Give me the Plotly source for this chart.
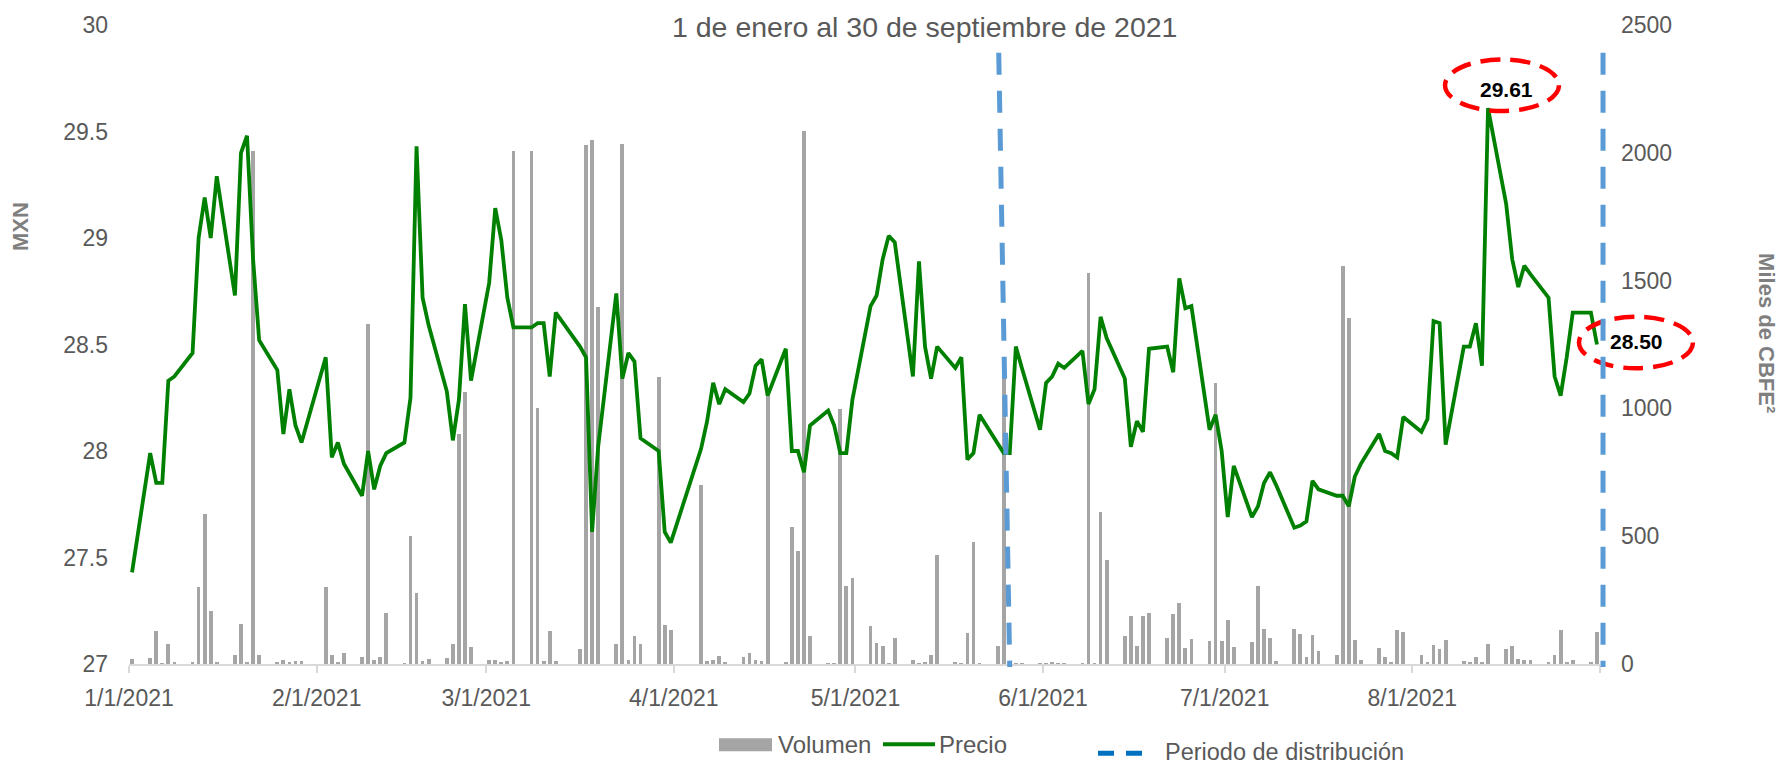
import pandas as pd
import plotly.graph_objects as go

# ---------------- data ----------------
fechas = [
    "2021-01-01", "2021-01-04", "2021-01-05", "2021-01-06", "2021-01-07", "2021-01-08",
    "2021-01-11", "2021-01-12", "2021-01-13", "2021-01-14", "2021-01-15",
    "2021-01-18", "2021-01-19", "2021-01-20", "2021-01-21", "2021-01-22",
    "2021-01-25", "2021-01-26", "2021-01-27", "2021-01-28", "2021-01-29",
    "2021-02-02", "2021-02-03", "2021-02-04", "2021-02-05",
    "2021-02-08", "2021-02-09", "2021-02-10", "2021-02-11", "2021-02-12",
    "2021-02-15", "2021-02-16", "2021-02-17", "2021-02-18", "2021-02-19",
    "2021-02-22", "2021-02-23", "2021-02-24", "2021-02-25", "2021-02-26",
    "2021-03-01", "2021-03-02", "2021-03-03", "2021-03-04", "2021-03-05",
    "2021-03-08", "2021-03-09", "2021-03-10", "2021-03-11", "2021-03-12",
    "2021-03-16", "2021-03-17", "2021-03-18", "2021-03-19",
    "2021-03-22", "2021-03-23", "2021-03-24", "2021-03-25", "2021-03-26",
    "2021-03-29", "2021-03-30", "2021-03-31",
    "2021-04-05", "2021-04-06", "2021-04-07", "2021-04-08", "2021-04-09",
    "2021-04-12", "2021-04-13", "2021-04-14", "2021-04-15", "2021-04-16",
    "2021-04-19", "2021-04-20", "2021-04-21", "2021-04-22", "2021-04-23",
    "2021-04-26", "2021-04-27", "2021-04-28", "2021-04-29", "2021-04-30",
    "2021-05-03", "2021-05-04", "2021-05-05", "2021-05-06", "2021-05-07",
    "2021-05-10", "2021-05-11", "2021-05-12", "2021-05-13", "2021-05-14",
    "2021-05-17", "2021-05-18", "2021-05-19", "2021-05-20", "2021-05-21",
    "2021-05-24", "2021-05-25", "2021-05-26", "2021-05-27", "2021-05-28",
    "2021-05-31", "2021-06-01", "2021-06-02", "2021-06-03", "2021-06-04",
    "2021-06-07", "2021-06-08", "2021-06-09", "2021-06-10", "2021-06-11",
    "2021-06-14", "2021-06-15", "2021-06-16", "2021-06-17", "2021-06-18",
    "2021-06-21", "2021-06-22", "2021-06-23", "2021-06-24", "2021-06-25",
    "2021-06-28", "2021-06-29", "2021-06-30", "2021-07-01", "2021-07-02",
    "2021-07-05", "2021-07-06", "2021-07-07", "2021-07-08", "2021-07-09",
    "2021-07-12", "2021-07-13", "2021-07-14", "2021-07-15", "2021-07-16",
    "2021-07-19", "2021-07-20", "2021-07-21", "2021-07-22", "2021-07-23",
    "2021-07-26", "2021-07-27", "2021-07-28", "2021-07-29", "2021-07-30",
    "2021-08-02", "2021-08-03", "2021-08-04", "2021-08-05", "2021-08-06",
    "2021-08-09", "2021-08-10", "2021-08-11", "2021-08-12", "2021-08-13",
    "2021-08-16", "2021-08-17", "2021-08-18", "2021-08-19", "2021-08-20",
    "2021-08-23", "2021-08-24", "2021-08-25", "2021-08-26", "2021-08-27",
    "2021-08-30", "2021-08-31",
]

precio = [
    27.43, 27.99, 27.85, 27.85, 28.33, 28.35,
    28.46, 29.00, 29.19, 29.00, 29.29,
    28.73, 29.40, 29.48, 28.90, 28.52,
    28.38, 28.08, 28.29, 28.12, 28.04,
    28.44, 27.97, 28.04, 27.94,
    27.79, 28.00, 27.82, 27.93, 27.99,
    28.04, 28.25, 29.43, 28.72, 28.59,
    28.28, 28.05, 28.24, 28.69, 28.33,
    28.79, 29.14, 28.99, 28.72, 28.58,
    28.58, 28.60, 28.60, 28.35, 28.65,
    28.49, 28.44, 27.62, 28.02,
    28.74, 28.34, 28.46, 28.42, 28.06,
    28.00, 27.62, 27.57,
    28.01, 28.14, 28.32, 28.22, 28.29,
    28.23, 28.27, 28.40, 28.43, 28.26,
    28.48, 28.00, 28.00, 27.90, 28.12,
    28.19, 28.12, 27.99, 27.99, 28.24,
    28.68, 28.73, 28.90, 29.01, 28.98,
    28.35, 28.89, 28.49, 28.34, 28.49,
    28.39, 28.44, 27.96, 27.99, 28.17,
    28.03, 27.99, 27.99, 28.49, 28.39,
    28.10, 28.32, 28.35, 28.41, 28.39,
    28.47, 28.22, 28.29, 28.63, 28.53,
    28.34, 28.02, 28.14, 28.09, 28.48,
    28.49, 28.37, 28.81, 28.67, 28.68,
    28.10, 28.17, 28.00, 27.69, 27.93,
    27.69, 27.74, 27.85, 27.90, 27.84,
    27.64, 27.65, 27.67, 27.86, 27.82,
    27.79, 27.79, 27.74, 27.88, 27.94,
    28.08, 28.00, 27.99, 27.97, 28.16,
    28.09, 28.15, 28.61, 28.60, 28.03,
    28.49, 28.49, 28.60, 28.40, 29.61,
    29.16, 28.90, 28.77, 28.87, 28.83,
    28.72, 28.35, 28.26, 28.44, 28.65,
    28.65, 28.50,
]

volumen = [
    20, 22, 128, 3, 77, 8,
    4, 300, 588, 207, 4,
    35, 158, 6, 2008, 35,
    5, 14, 6, 12, 10,
    300, 36, 6, 43,
    29, 1330, 17, 29, 201,
    3, 500, 276, 10, 19,
    24, 79, 900, 1066, 65,
    14, 14, 5, 10, 2009,
    2009, 1000, 10, 129, 10,
    57, 2030, 2052, 1398,
    79, 2033, 14, 108, 79,
    1124, 151, 132,
    700, 10, 17, 33, 7,
    29, 43, 14, 10, 1049,
    5, 535, 441, 2087, 108,
    3, 3, 999, 305, 338,
    147, 82, 69, 3, 101,
    14, 3, 5, 36, 428,
    5, 3, 122, 477, 3,
    72, 1186, 3, 3, 3,
    1, 2, 5, 3, 3,
    3, 1530, 3, 596, 405,
    108, 187, 69, 187, 201,
    101, 197, 237, 62, 98,
    89, 1100, 89, 172, 65,
    86, 306, 137, 103, 10,
    137, 118, 28, 115, 50,
    35, 1558, 1352, 93, 14,
    64, 26, 4, 133, 126,
    36, 4, 75, 60, 93,
    10, 4, 26, 4, 79,
    57, 69, 21, 17, 17,
    4, 36, 133, 7, 14,
    7, 126,
]

periodo_distribucion = ["2021-05-25", "2021-09-01"]

titulo = "1 de enero al 30 de septiembre de 2021"
y_izq_ticks = [27, 27.5, 28, 28.5, 29, 29.5, 30]
y_der_ticks = [0, 500, 1000, 1500, 2000, 2500]

# ---------------- layout geometry ----------------
FW, FH = 1791, 766
ML, MR, MT, MB = 129, 191, 19, 102
W = FW - ML - MR
H = FH - MT - MB
FONT = "Liberation Sans, Arial, sans-serif"
GRAY_TXT = "#595959"

x0 = pd.Timestamp("2021-01-01") - pd.Timedelta(hours=12)
x1 = pd.Timestamp("2021-09-01") - pd.Timedelta(hours=12)
meses = pd.date_range("2021-01-01", "2021-09-01", freq="MS")
tickvals = [m - pd.Timedelta(hours=12) for m in meses]
ticktext = [f"{m.month}/1/2021" for m in meses[:-1]] + [""]


def px(xpix):
    return (xpix - ML) / W


def py(ypix):
    return (FH - MB - ypix) / H


def date_px(d):
    return ML + (pd.Timestamp(d) - x0) / (x1 - x0) * W


def price_py(p):
    return FH - MB - (p - 27) / 3 * H


fig = go.Figure()
fig.add_trace(go.Bar(
    x=fechas, y=volumen, name="Volumen",
    marker=dict(color="#A5A5A5", line=dict(width=0)),
    width=0.62 * 86400000, yaxis="y", showlegend=False,
))
fig.add_trace(go.Scatter(
    x=fechas, y=precio, name="Precio", mode="lines",
    line=dict(color="#008000", width=3.8), yaxis="y2", showlegend=False,
))

shapes = []
annotations = []

# highlighted values (max and last price)
imax = max(range(len(precio)), key=lambda i: precio[i])
ilast = len(precio) - 1
resaltes = [(imax, 14, -23, 18, -19), (ilast, 39, -2, 40, -3)]
for idx, ox, oy, tx, ty in resaltes:
    cx = date_px(fechas[idx]) + ox
    cy = price_py(precio[idx]) + oy
    shapes.append(dict(
        type="circle", xref="paper", yref="paper",
        x0=px(cx - 57), x1=px(cx + 57), y0=py(cy + 26), y1=py(cy - 26),
        line=dict(color="#FF0000", width=4.5, dash="20px,10px"),
        fillcolor="rgba(0,0,0,0)", layer="above",
    ))
    annotations.append(dict(
        xref="paper", yref="paper",
        x=px(date_px(fechas[idx]) + tx), y=py(price_py(precio[idx]) + ty),
        text=f"<b>{precio[idx]:.2f}</b>", showarrow=False,
        font=dict(family=FONT, size=21, color="#000000"),
        xanchor="center", yanchor="middle",
    ))

# distribution period dashed lines
slants = [(-5, 6), (0, 0)]
for d, (st, sb) in zip(periodo_distribucion, slants):
    xc = date_px(d)
    shapes.append(dict(
        type="line", xref="paper", yref="paper",
        x0=px(xc + st), x1=px(xc + sb), y0=py(47), y1=py(667),
        line=dict(color="#5B9BD5", width=5, dash="22px,16px"), layer="above",
    ))

# title
annotations.append(dict(
    xref="paper", yref="paper", x=px(924), y=py(21), text=titulo,
    showarrow=False, font=dict(family=FONT, size=28.5, color=GRAY_TXT),
    xanchor="center", yanchor="middle",
))
# axis titles
annotations.append(dict(
    xref="paper", yref="paper", x=px(20), y=py(223), text="<b>MXN</b>",
    showarrow=False, textangle=-90, font=dict(family=FONT, size=22, color="#7F7F7F"),
    xanchor="center", yanchor="middle",
))
annotations.append(dict(
    xref="paper", yref="paper", x=px(1767), y=py(330), text="<b>Miles de CBFE²</b>",
    showarrow=False, textangle=90, font=dict(family=FONT, size=22, color="#7F7F7F"),
    xanchor="center", yanchor="middle",
))

# manual legend
shapes.append(dict(type="rect", xref="paper", yref="paper",
                   x0=px(719), x1=px(772), y0=py(752), y1=py(739),
                   fillcolor="#A5A5A5", line=dict(width=0)))
annotations.append(dict(xref="paper", yref="paper", x=px(776), y=py(745), text="Volumen",
                        showarrow=False, xanchor="left", yanchor="middle",
                        font=dict(family=FONT, size=24, color=GRAY_TXT)))
shapes.append(dict(type="line", xref="paper", yref="paper",
                   x0=px(883), x1=px(935), y0=py(745), y1=py(745),
                   line=dict(color="#008000", width=4)))
annotations.append(dict(xref="paper", yref="paper", x=px(937), y=py(745), text="Precio",
                        showarrow=False, xanchor="left", yanchor="middle",
                        font=dict(family=FONT, size=24, color=GRAY_TXT)))
shapes.append(dict(type="line", xref="paper", yref="paper",
                   x0=px(1098), x1=px(1142), y0=py(754), y1=py(754),
                   line=dict(color="#0070C0", width=5, dash="16px,12px")))
annotations.append(dict(xref="paper", yref="paper", x=px(1163), y=py(753),
                        text="Periodo de distribución",
                        showarrow=False, xanchor="left", yanchor="middle",
                        font=dict(family=FONT, size=23.5, color=GRAY_TXT)))

fig.update_layout(
    width=FW, height=FH, autosize=False,
    margin=dict(l=ML, r=MR, t=MT, b=MB, pad=0),
    paper_bgcolor="white", plot_bgcolor="white",
    showlegend=False, bargap=0,
    font=dict(family=FONT, color=GRAY_TXT),
    xaxis=dict(
        type="date", range=[x0, x1], tickmode="array",
        tickvals=tickvals, ticktext=ticktext,
        ticks="outside", ticklen=7, tickwidth=1.5, tickcolor="#D9D9D9",
        showline=True, linecolor="#D9D9D9", linewidth=2,
        showgrid=False, zeroline=False,
        tickfont=dict(family=FONT, size=23, color=GRAY_TXT),
        ticklabelstandoff=5,
    ),
    yaxis=dict(
        range=[0, 2500], side="right", tickmode="array", tickvals=y_der_ticks,
        ticktext=[str(v) for v in y_der_ticks],
        showgrid=False, zeroline=False, showline=False, ticks="",
        tickfont=dict(family=FONT, size=23, color=GRAY_TXT),
        ticklabelstandoff=20,
    ),
    yaxis2=dict(
        range=[27, 30], side="left", overlaying="y", tickmode="array",
        tickvals=y_izq_ticks, ticktext=[f"{v:g}" for v in y_izq_ticks],
        showgrid=False, zeroline=False, showline=False, ticks="",
        tickfont=dict(family=FONT, size=23, color=GRAY_TXT),
        ticklabelstandoff=20,
    ),
    shapes=shapes, annotations=annotations,
)

fig.write_html(
    "out.html",
    config={"displayModeBar": False},
    post_script="document.body.style.margin='0';document.body.style.overflow='hidden';",
)
